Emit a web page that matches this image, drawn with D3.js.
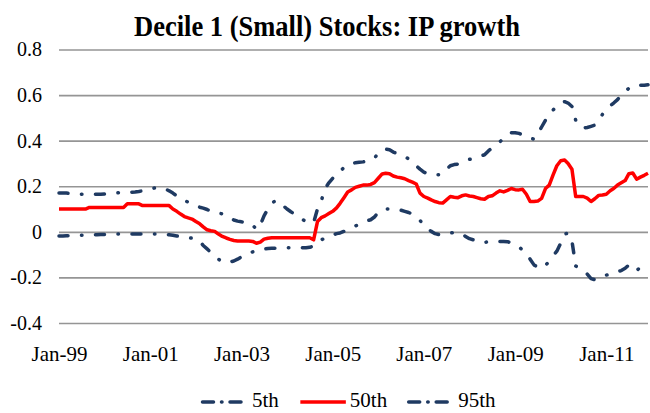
<!DOCTYPE html>
<html>
<head>
<meta charset="utf-8">
<script src="https://cdn.jsdelivr.net/npm/d3@7"></script>
<style>
  body { margin: 0; background: #fff; }
  svg { display: block; }
  text { font-family: "Liberation Serif", "DejaVu Serif", serif; fill: #000; }
</style>
</head>
<body>
<div id="chart"></div>
<script>
// percentile series, monthly Jan-99 .. Dec-11 (one row per year)
const p5 = [
  -0.018,-0.018,-0.017,-0.017,-0.016,-0.015,-0.015,-0.015,-0.014,-0.013,-0.013,-0.012,
  -0.012,-0.011,-0.010,-0.010,-0.010,-0.010,-0.010,-0.010,-0.010,-0.010,-0.010,-0.010,
  -0.010,-0.010,-0.010,-0.010,-0.012,-0.013,-0.015,-0.018,-0.020,-0.022,-0.025,-0.028,
  -0.030,-0.040,-0.060,-0.075,-0.090,-0.105,-0.120,-0.132,-0.135,-0.132,-0.128,-0.120,
  -0.110,-0.103,-0.095,-0.088,-0.083,-0.078,-0.075,-0.073,-0.072,-0.072,-0.072,-0.071,
  -0.070,-0.070,-0.070,-0.070,-0.070,-0.070,-0.068,-0.062,-0.045,-0.035,-0.028,-0.023,
  -0.015,-0.008,-0.005,0.002,0.010,0.018,0.025,0.035,0.042,0.048,0.053,0.065,
  0.085,0.097,0.100,0.100,0.100,0.098,0.095,0.090,0.085,0.077,0.067,0.050,
  0.030,0.015,0.002,-0.008,-0.012,-0.013,-0.010,-0.005,-0.003,-0.003,-0.010,-0.020,
  -0.030,-0.035,-0.042,-0.047,-0.046,-0.044,-0.042,-0.042,-0.042,-0.042,-0.043,-0.050,
  -0.057,-0.066,-0.080,-0.100,-0.120,-0.145,-0.155,-0.160,-0.148,-0.128,-0.105,-0.085,
  -0.050,-0.010,-0.005,-0.040,-0.150,-0.160,-0.170,-0.185,-0.205,-0.210,-0.205,-0.200,
  -0.190,-0.185,-0.178,-0.174,-0.170,-0.160,-0.145,-0.160,-0.170,-0.155,-0.155,-0.155
];
const p50 = [
  0.100,0.100,0.100,0.100,0.100,0.100,0.100,0.100,0.107,0.107,0.107,0.107,
  0.107,0.107,0.107,0.107,0.107,0.107,0.123,0.123,0.123,0.123,0.115,0.115,
  0.115,0.115,0.115,0.115,0.115,0.115,0.100,0.090,0.078,0.067,0.061,0.056,
  0.045,0.035,0.022,0.009,0.005,0.002,-0.010,-0.020,-0.027,-0.033,-0.038,-0.040,
  -0.040,-0.040,-0.040,-0.042,-0.050,-0.045,-0.032,-0.028,-0.026,-0.026,-0.026,-0.026,
  -0.026,-0.026,-0.026,-0.026,-0.026,-0.026,-0.026,-0.035,0.045,0.062,0.070,0.080,
  0.090,0.105,0.125,0.150,0.175,0.184,0.195,0.200,0.205,0.205,0.208,0.216,
  0.235,0.254,0.257,0.255,0.245,0.240,0.237,0.233,0.225,0.218,0.210,0.170,
  0.155,0.148,0.140,0.133,0.128,0.126,0.140,0.155,0.152,0.150,0.158,0.162,
  0.157,0.155,0.150,0.145,0.143,0.155,0.158,0.170,0.180,0.175,0.182,0.190,
  0.185,0.184,0.187,0.165,0.133,0.133,0.135,0.147,0.190,0.205,0.250,0.290,
  0.312,0.315,0.300,0.275,0.155,0.155,0.155,0.148,0.133,0.145,0.160,0.162,
  0.165,0.180,0.190,0.205,0.215,0.225,0.255,0.258,0.231,0.240,0.248,0.257
];
const p95 = [
  0.170,0.170,0.170,0.168,0.167,0.166,0.165,0.165,0.165,0.165,0.165,0.165,
  0.166,0.167,0.168,0.170,0.172,0.172,0.173,0.174,0.175,0.177,0.180,0.184,
  0.188,0.192,0.195,0.192,0.188,0.180,0.170,0.158,0.148,0.138,0.130,0.122,
  0.115,0.108,0.104,0.098,0.090,0.086,0.082,0.079,0.072,0.062,0.052,0.047,
  0.044,0.042,0.040,0.030,0.010,0.030,0.070,0.100,0.125,0.137,0.130,0.115,
  0.100,0.088,0.078,0.068,0.055,0.045,0.043,0.040,0.100,0.135,0.190,0.215,
  0.235,0.250,0.265,0.282,0.292,0.300,0.303,0.305,0.307,0.310,0.315,0.323,
  0.345,0.360,0.363,0.360,0.350,0.343,0.337,0.330,0.320,0.305,0.290,0.275,
  0.262,0.255,0.250,0.250,0.250,0.255,0.275,0.290,0.295,0.297,0.300,0.310,
  0.318,0.322,0.328,0.333,0.338,0.355,0.368,0.380,0.395,0.410,0.425,0.435,
  0.435,0.432,0.425,0.418,0.410,0.407,0.430,0.460,0.490,0.515,0.535,0.550,
  0.565,0.571,0.565,0.550,0.490,0.465,0.455,0.458,0.463,0.468,0.490,0.515,
  0.535,0.553,0.565,0.580,0.600,0.615,0.630,0.640,0.645,0.643,0.643,0.645
];

const seriesNames = ["5th", "50th", "95th"];
const seriesValues = [p5, p50, p95];
const yTicks = [-0.4, -0.2, 0, 0.2, 0.4, 0.6, 0.8];
const xTickYears = [1999, 2001, 2003, 2005, 2007, 2009, 2011];
const title = "Decile 1 (Small) Stocks: IP growth";

const months = d3.timeMonth.range(new Date(1999, 0, 1), new Date(2012, 0, 1));

const width = 650, height = 413;
const margin = { top: 49.5, right: 2, bottom: 90, left: 59 };

const navy = "#1f3a62";
const styles = {
  "5th":  { color: navy, width: 3.5, dash: "9,13.5,0.5,13.5" },
  "50th": { color: "#ff0000", width: 3.5, dash: null },
  "95th": { color: navy, width: 3.5, dash: "9,13.5,0.5,13.5" }
};

const svg = d3.select("#chart").append("svg")
  .attr("width", width)
  .attr("height", height);

const x = d3.scaleTime()
  .domain([months[0], months[months.length - 1]])
  .range([margin.left, width - margin.right]);

const y = d3.scaleLinear()
  .domain([-0.4, 0.8])
  .range([height - margin.bottom, margin.top]);

// title (condensed to the reference width)
svg.append("text")
  .attr("x", 327)
  .attr("y", 36)
  .attr("text-anchor", "middle")
  .attr("textLength", 386)
  .attr("lengthAdjust", "spacingAndGlyphs")
  .style("font-weight", "bold")
  .style("font-size", "30px")
  .text(title);

// y axis with gridlines
const yAxis = d3.axisLeft(y)
  .tickValues(yTicks)
  .tickSize(-(width - margin.left - margin.right))
  .tickPadding(17)
  .tickFormat(d => Math.abs(d) < 1e-9 ? "0" : d.toFixed(1));

const gy = svg.append("g")
  .attr("transform", `translate(${margin.left},0)`)
  .call(yAxis);
gy.select(".domain").remove();
gy.selectAll(".tick line").attr("stroke", "#959595").attr("stroke-width", 1.6);
gy.selectAll(".tick text")
  .style("font-size", "20px")
  .style("font-family", "'Liberation Serif', serif");

// x axis labels
const xAxis = d3.axisBottom(x)
  .tickValues(xTickYears.map(yr => new Date(yr, 0, 1)))
  .tickSize(0)
  .tickPadding(23)
  .tickFormat(d3.timeFormat("%b-%y"));

const gx = svg.append("g")
  .attr("transform", `translate(0,${height - margin.bottom})`)
  .call(xAxis);
gx.select(".domain").remove();
gx.selectAll(".tick text")
  .style("font-size", "21px")
  .style("font-family", "'Liberation Serif', serif");

// lines
const line = d3.line()
  .x((d, i) => x(months[i]))
  .y(d => y(d));

seriesNames.forEach((name, k) => {
  const s = styles[name];
  svg.append("path")
    .datum(seriesValues[k])
    .attr("fill", "none")
    .attr("stroke", s.color)
    .attr("stroke-width", s.width)
    .attr("stroke-linecap", s.dash ? "round" : "butt")
    .attr("stroke-linejoin", "round")
    .attr("stroke-dasharray", s.dash)
    .attr("d", line);
});

// legend
const legend = svg.append("g").attr("transform", "translate(0,402)");
let lx = 201;
seriesNames.forEach(name => {
  const s = styles[name];
  legend.append("line")
    .attr("x1", lx + 1.5).attr("x2", lx + 47)
    .attr("y1", 0).attr("y2", 0)
    .attr("stroke", s.color)
    .attr("stroke-width", s.width)
    .attr("stroke-linecap", s.dash ? "round" : "butt")
    .attr("stroke-dasharray", s.dash ? "11,8,0.5,8" : null);
  const t = legend.append("text")
    .attr("x", lx + 51)
    .attr("y", 4.5)
    .style("font-size", "21px")
    .text(name);
  lx += 51 + t.node().getComputedTextLength() + 20;
});
</script>
</body>
</html>
